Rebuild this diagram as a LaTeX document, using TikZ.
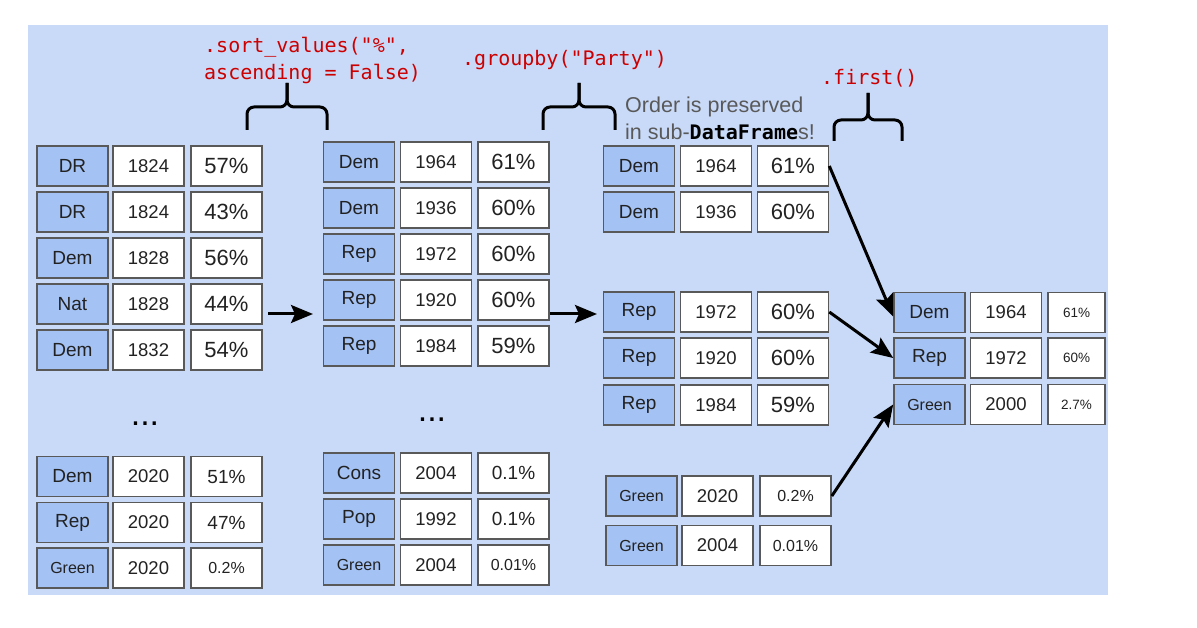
\documentclass[tikz,border=0pt]{standalone}
\usepackage{fontspec}
\setmainfont{Liberation Sans}
\newfontfamily\codefont{DejaVu Sans Mono}
\usetikzlibrary{arrows.meta}
\definecolor{bgblue}{HTML}{C9DAF8}
\definecolor{cellblue}{HTML}{A4C2F4}
\definecolor{cellborder}{HTML}{595959}
\definecolor{codered}{HTML}{CC0000}
\definecolor{notegray}{HTML}{595959}
\definecolor{txt}{HTML}{222222}
\begin{document}
\begin{tikzpicture}[x=1pt,y=-1pt,
 cellbase/.style={draw=cellborder, line width=1.6pt, minimum width=71pt, minimum height=40pt, inner sep=0pt, text=txt},
 pty/.style={cellbase, fill=cellblue, font=\fontsize{19}{19}\selectfont},
 ptysm/.style={cellbase, fill=cellblue, font=\fontsize{16}{16}\selectfont},
 yr/.style={cellbase, fill=white, font=\fontsize{18.5}{18.5}\selectfont},
 pbig/.style={cellbase, fill=white, font=\fontsize{22}{22}\selectfont},
 psm/.style={cellbase, fill=white, font=\fontsize{19}{19}\selectfont},
 pxs/.style={cellbase, fill=white, font=\fontsize{16}{16}\selectfont},
 ptiny/.style={cellbase, fill=white, minimum width=57pt, font=\fontsize{13.5}{13.5}\selectfont},
 code/.style={text=codered, font=\codefont\fontsize{20}{20}\selectfont, anchor=base west, inner sep=0pt},
 note/.style={text=notegray, font=\fontsize{21.5}{21.5}\selectfont, anchor=base west, inner sep=0pt},
 dots/.style={text=black, font=\fontsize{34}{34}\selectfont, anchor=base, inner sep=0pt},
 brace/.style={line width=3pt, rounded corners=7pt},
 arr/.style={line width=3pt, -{Stealth[length=22pt,width=18pt,inset=4pt]}},
]
\useasboundingbox (0,0) rectangle (1197,628);
\fill[bgblue] (28,25) rectangle (1108,595);

% ---------- Table 1 ----------
\node[pty] (t1a1) at (72.5,166) {DR};  \node[yr] (t1b1) at (148.5,166) {1824}; \node[pbig] (t1c1) at (226.5,166) {57\%};
\node[pty] (t1a2) at (72.5,212) {DR};  \node[yr] (t1b2) at (148.5,212) {1824}; \node[pbig] (t1c2) at (226.5,212) {43\%};
\node[pty] (t1a3) at (72.5,258) {Dem}; \node[yr] (t1b3) at (148.5,258) {1828}; \node[pbig] (t1c3) at (226.5,258) {56\%};
\node[pty] (t1a4) at (72.5,304) {Nat}; \node[yr] (t1b4) at (148.5,304) {1828}; \node[pbig] (t1c4) at (226.5,304) {44\%};
\node[pty] (t1a5) at (72.5,350) {Dem}; \node[yr] (t1b5) at (148.5,350) {1832}; \node[pbig] (t1c5) at (226.5,350) {54\%};
\node[dots] (d1) at (145,425) {...};
\node[pty] (t1a6) at (72.5,476.5) {Dem}; \node[yr] (t1b6) at (148.5,476.5) {2020}; \node[psm] (t1c6) at (226.5,476.5) {51\%};
\node[pty] (t1a7) at (72.5,522.5) {Rep}; \node[yr] (t1b7) at (148.5,522.5) {2020}; \node[psm] (t1c7) at (226.5,522.5) {47\%};
\node[ptysm] (t1a8) at (72.5,568) {Green}; \node[yr] (t1b8) at (148.5,568) {2020}; \node[pxs] (t1c8) at (226.5,568) {0.2\%};

% ---------- Table 2 ----------
\node[pty] (t2a1) at (359,162) {Dem}; \node[yr] (t2b1) at (436,162) {1964}; \node[pbig] (t2c1) at (513.5,162) {61\%};
\node[pty] (t2a2) at (359,208) {Dem}; \node[yr] (t2b2) at (436,208) {1936}; \node[pbig] (t2c2) at (513.5,208) {60\%};
\node[pty] (t2a3) at (359,254) {Rep}; \node[yr] (t2b3) at (436,254) {1972}; \node[pbig] (t2c3) at (513.5,254) {60\%};
\node[pty] (t2a4) at (359,300) {Rep}; \node[yr] (t2b4) at (436,300) {1920}; \node[pbig] (t2c4) at (513.5,300) {60\%};
\node[pty] (t2a5) at (359,346) {Rep}; \node[yr] (t2b5) at (436,346) {1984}; \node[pbig] (t2c5) at (513.5,346) {59\%};
\node[dots] (d2) at (432,421) {...};
\node[pty] (t2a6) at (359,473) {Cons}; \node[yr] (t2b6) at (436,473) {2004}; \node[psm] (t2c6) at (513.5,473) {0.1\%};
\node[pty] (t2a7) at (359,519) {Pop};  \node[yr] (t2b7) at (436,519) {1992}; \node[psm] (t2c7) at (513.5,519) {0.1\%};
\node[ptysm] (t2a8) at (359,565) {Green}; \node[yr] (t2b8) at (436,565) {2004}; \node[pxs] (t2c8) at (513.5,565) {0.01\%};

% ---------- Table 3 (groups) ----------
\node[pty] (t3a1) at (639,166) {Dem}; \node[yr] (t3b1) at (716,166) {1964}; \node[pbig] (t3c1) at (793,166) {61\%};
\node[pty] (t3a2) at (639,212) {Dem}; \node[yr] (t3b2) at (716,212) {1936}; \node[pbig] (t3c2) at (793,212) {60\%};
\node[pty] (t3a3) at (639,312) {Rep}; \node[yr] (t3b3) at (716,312) {1972}; \node[pbig] (t3c3) at (793,312) {60\%};
\node[pty] (t3a4) at (639,358) {Rep}; \node[yr] (t3b4) at (716,358) {1920}; \node[pbig] (t3c4) at (793,358) {60\%};
\node[pty] (t3a5) at (639,405) {Rep}; \node[yr] (t3b5) at (716,405) {1984}; \node[pbig] (t3c5) at (793,405) {59\%};
\node[ptysm] (t3a6) at (641.5,496) {Green}; \node[yr] (t3b6) at (717.5,496) {2020}; \node[pxs] (t3c6) at (795.5,496) {0.2\%};
\node[ptysm] (t3a7) at (641.5,545.5) {Green}; \node[yr] (t3b7) at (717.5,545.5) {2004}; \node[pxs] (t3c7) at (795.5,545.5) {0.01\%};

% ---------- Table 4 ----------
\node[pty] (t4a1) at (929.5,312.5) {Dem}; \node[yr] (t4b1) at (1006,312.5) {1964}; \node[ptiny] (t4c1) at (1076.5,312.5) {61\%};
\node[pty] (t4a2) at (929.5,358) {Rep};   \node[yr] (t4b2) at (1006,358) {1972};   \node[ptiny] (t4c2) at (1076.5,358) {60\%};
\node[ptysm] (t4a3) at (929.5,404.5) {Green}; \node[yr] (t4b3) at (1006,404.5) {2000}; \node[ptiny] (t4c3) at (1076.5,404.5) {2.7\%};

% ---------- Labels ----------
\node[code] (lbl1a) at (204,53) {.sort\_values("\%",};
\node[code] (lbl1b) at (204,80) {ascending = False)};
\node[code] (lbl2) at (462,66) {.groupby("Party")};
\node[code] (lbl3) at (821,85) {.first()};
\node[note] (note1) at (625,113) {Order is preserved};
\node[note] (note2) at (625,140) {in sub-{\color{black}\codefont\bfseries\fontsize{20}{20}\selectfont DataFrame}s!};

% ---------- Braces ----------
\draw[brace] (247,130) -- (247,107) -- (287,107) -- (287,83);
\draw[brace] (327,130) -- (327,107) -- (287,107) -- (287,83);
\draw[brace] (543,130) -- (543,107) -- (579,107) -- (579,83);
\draw[brace] (615,130) -- (615,107) -- (579,107) -- (579,83);
\draw[brace] (834,141) -- (834,120) -- (868,120) -- (868,93);
\draw[brace] (902,141) -- (902,120) -- (868,120) -- (868,93);

% ---------- Arrows ----------
\coordinate (a1s) at (268,314); \coordinate (a1e) at (313,314);
\coordinate (a2s) at (550,314); \coordinate (a2e) at (597,314);
\draw[arr] (a1s) -- (a1e);
\draw[arr] (a2s) -- (a2e);
\draw[arr] (t3c1.east) -- ([yshift=-4pt]t4a1.west);
\draw[arr] (t3c3.east) -- (t4a2.west);
\draw[arr] (t3c6.east) -- (t4a3.west);
\end{tikzpicture}
\end{document}
